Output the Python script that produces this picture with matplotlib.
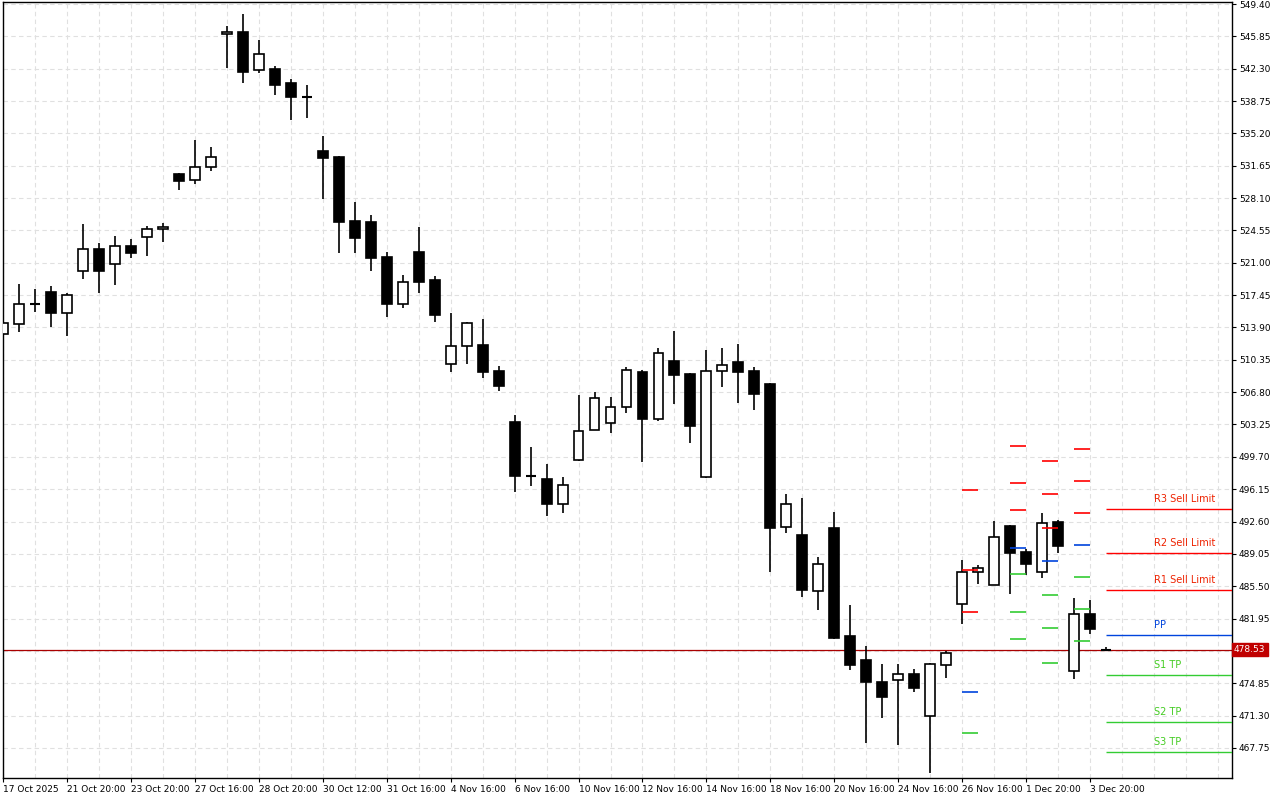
import matplotlib
matplotlib.use("Agg")
import matplotlib.pyplot as plt
import numpy as np

opens = [513.18,514.28,516.45,517.79,515.49,520.10,522.51,520.87,522.84,523.83,524.71,530.74,530.08,531.51,546.11,546.33,542.16,542.27,540.73,539.30,
         533.27,532.61,525.58,525.47,521.63,516.48,522.18,519.11,509.89,511.87,511.98,509.12,503.52,497.70,497.27,494.53,499.35,502.65,503.41,505.17,
         509.01,503.85,510.22,508.79,497.49,509.12,510.11,509.12,507.69,492.00,491.12,484.98,491.89,480.04,477.41,474.99,475.21,475.87,471.26,476.86,
         483.55,487.06,485.64,492.11,489.26,487.06,492.55,476.20,482.45,478.60]
highs = [514.50,518.67,518.12,518.45,517.68,525.26,523.17,523.94,523.61,525.04,525.37,530.90,534.47,533.70,546.99,548.30,545.45,542.60,541.17,540.51,
         534.91,532.70,527.67,526.24,522.18,519.66,524.93,519.55,515.49,514.50,514.83,509.67,504.29,500.78,498.92,497.49,506.49,506.82,506.27,509.56,
         509.20,511.65,513.51,508.90,511.43,511.65,512.08,509.56,507.80,495.62,495.18,488.71,493.65,483.44,478.94,476.97,476.97,476.42,477.10,478.39,
         488.38,487.83,492.66,492.20,489.59,493.54,492.80,484.21,484.00,478.80]
lows = [513.07,513.40,515.60,513.95,512.96,519.22,517.68,518.56,521.52,521.74,523.28,528.99,529.65,531.07,542.38,540.73,541.83,539.41,536.67,536.89,
        528.00,522.07,522.07,520.10,515.05,516.04,517.68,514.50,509.01,509.89,508.35,506.93,495.86,496.50,493.21,493.54,499.24,502.60,502.32,504.51,
        499.13,503.63,505.50,501.22,497.40,507.36,505.61,504.84,487.06,491.34,484.32,482.89,479.70,476.31,468.30,471.04,468.08,473.89,465.00,475.43,
        481.36,485.75,485.60,484.65,486.73,486.40,489.15,475.32,480.26,478.40]
closes = [514.39,516.48,516.50,515.49,517.46,522.51,520.10,522.84,522.07,524.71,524.93,529.97,531.51,532.61,546.33,541.94,543.91,540.51,539.19,539.20,
          532.50,525.47,523.72,521.52,516.48,518.89,518.89,515.27,511.87,514.39,509.01,507.47,497.60,497.60,494.53,496.61,502.54,506.16,505.17,509.23,
          503.85,511.10,508.68,503.08,509.12,509.78,509.01,506.60,491.89,494.53,485.09,487.94,479.82,476.86,474.99,473.34,475.87,474.33,476.97,478.17,
          487.06,487.50,490.90,489.15,487.94,492.44,489.92,482.45,480.80,478.53]

date_labels = ["17 Oct 2025","21 Oct 20:00","23 Oct 20:00","27 Oct 16:00","28 Oct 20:00","30 Oct 12:00",
               "31 Oct 16:00","4 Nov 16:00","6 Nov 16:00","10 Nov 16:00","12 Nov 16:00","14 Nov 16:00",
               "18 Nov 16:00","20 Nov 16:00","24 Nov 16:00","26 Nov 16:00","1 Dec 20:00","3 Dec 20:00"]
price_ticks = [549.40,545.85,542.30,538.75,535.20,531.65,528.10,524.55,521.00,517.45,513.90,510.35,506.80,
               503.25,499.70,496.15,492.60,489.05,485.50,481.95,478.40,474.85,471.30,467.75]

pivot_days = [60, 63, 65, 67]
pivot_R = [[496.03,487.25,482.64],[500.86,496.80,493.83],[499.24,495.59,491.86],[500.53,497.02,493.50]]
pivot_P = [473.86,489.66,488.24,489.99]
pivot_S = [[469.36,460.50,451.60],[486.81,482.64,479.68],[484.50,480.88,477.04],[486.48,482.97,479.46]]

cur_names = ["R3 Sell Limit","R2 Sell Limit","R1 Sell Limit","PP","S1 TP","S2 TP","S3 TP"]
cur_levels = [493.94,489.11,485.05,480.11,475.75,470.57,467.34]
last_price = 478.53

fig = plt.figure(figsize=(12.8, 8), dpi=100)
ax = fig.add_axes([3/1280, 22/800, (1232-3)/1280, (778-2)/800])
ax.set_xlim(1/16, 1230/16)
ax.set_ylim(464.45, 549.62)

x = np.arange(len(opens))
for xi in range(0, 78, 2):
    ax.axvline(xi, color="#e0e0e0", lw=0.8, ls=(0, (4, 3)), zorder=0)
for p in price_ticks:
    ax.axhline(p, color="#e0e0e0", lw=0.8, ls=(0, (4, 3)), zorder=0)

w = 0.62
for i in x:
    o, h, l, c = opens[i], highs[i], lows[i], closes[i]
    ax.vlines(i, l, h, color="black", lw=1.2, zorder=2)
    if abs(c - o) < 0.12:
        ax.hlines(c, i - w/2, i + w/2, color="black", lw=1.5, zorder=3)
    else:
        fc = "white" if c > o else "black"
        ax.bar(i, abs(c - o), w, bottom=min(o, c), color=fc, edgecolor="black", lw=1.2, zorder=3)

for d, R, P, S in zip(pivot_days, pivot_R, pivot_P, pivot_S):
    for v in R:
        ax.hlines(v, d, d + 1, color="red", lw=1.2, zorder=4)
    ax.hlines(P, d, d + 1, color="#0044dd", lw=1.2, zorder=4)
    for v in S:
        ax.hlines(v, d, d + 1, color="#33cc33", lw=1.2, zorder=4)

cols = ["red", "red", "red", "#0044dd", "#33cc33", "#33cc33", "#33cc33"]
tcols = ["#ee2200", "#ee2200", "#ee2200", "#0044dd", "#44cc22", "#44cc22", "#44cc22"]
for name, v, c, tc in zip(cur_names, cur_levels, cols, tcols):
    ax.hlines(v, 69, 77, color=c, lw=1.0, zorder=4)
    ax.text(72, v + 0.55, name, color=tc, fontsize=7, ha="left", va="bottom")

ax.axhline(last_price, color="#aa0000", lw=0.9, zorder=1)

ax.yaxis.tick_right()
ax.set_yticks(price_ticks)
ax.set_yticklabels(["" if abs(p - last_price) < 1.0 else f"{p:.2f}" for p in price_ticks], fontsize=6.5)
ax.set_xticks(np.arange(0, 69, 4))
ax.set_xticklabels(date_labels, fontsize=6.5, ha="left")
ax.tick_params(axis="both", length=3, width=0.8, pad=2)
for s in ax.spines.values():
    s.set_linewidth(1.0)

ax.text(1.0015, last_price, f"{last_price:.2f}", transform=ax.get_yaxis_transform(),
        fontsize=6.5, color="white", va="center", ha="left", zorder=10,
        bbox=dict(boxstyle="square,pad=0.25", fc="#c00000", ec="#c00000"))

fig.savefig("out.png", dpi=100)
